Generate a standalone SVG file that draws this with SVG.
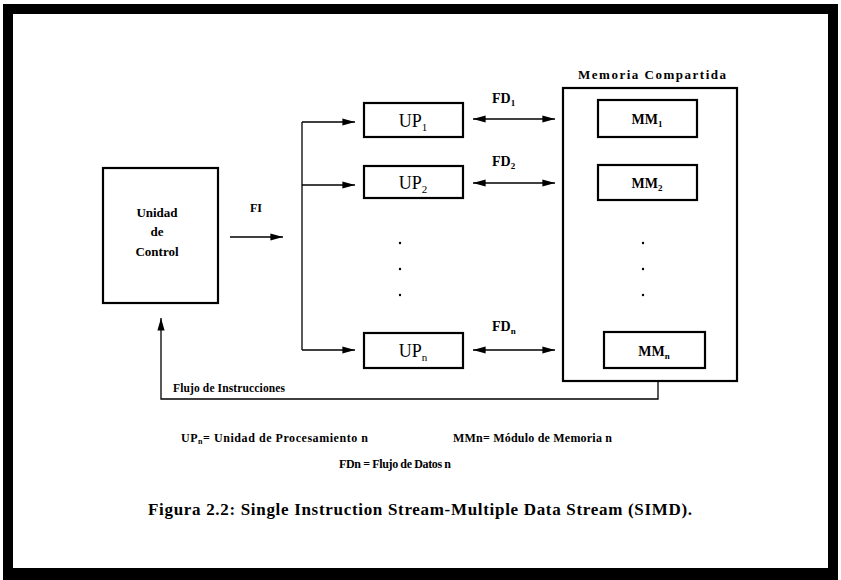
<svg xmlns="http://www.w3.org/2000/svg" width="841" height="580" viewBox="0 0 841 580">
<defs>
<style>
.t{font-family:"Liberation Serif","Times New Roman",serif;fill:#000}
.b{font-weight:bold}
.box{fill:#fff;stroke:#000;stroke-width:2.2}
.ln{fill:none;stroke:#000;stroke-width:1.3}
</style>
<marker id="ah" viewBox="0 0 14 10" refX="14" refY="5" markerWidth="14" markerHeight="9" markerUnits="userSpaceOnUse" orient="auto-start-reverse">
<path d="M0,1 L14,5 L0,9 Z" fill="#000"/>
</marker>
</defs>
<rect x="0" y="0" width="841" height="580" fill="#fff"/>
<path id="frame" d="M3,4 H838 V580 H3 Z M13,14 V568 H828 V14 Z" fill="#000" fill-rule="evenodd"/>

<g id="control">
<rect class="box" x="103" y="168" width="115" height="135" stroke-width="2.6"/>
<text class="t b" x="157" y="217" font-size="13" text-anchor="middle">Unidad</text>
<text class="t b" x="157" y="236" font-size="13" text-anchor="middle">de</text>
<text class="t b" x="157" y="256" font-size="13" text-anchor="middle">Control</text>
</g>

<g id="up1">
<rect class="box" x="364" y="103" width="99" height="34"/>
<text class="t" x="413" y="127" font-size="18" text-anchor="middle">UP<tspan font-size="11" dy="4">1</tspan></text>
</g>
<g id="up2">
<rect class="box" x="364" y="166" width="99" height="32"/>
<text class="t" x="413" y="189" font-size="18" text-anchor="middle">UP<tspan font-size="11" dy="4">2</tspan></text>
</g>
<g id="upn">
<rect class="box" x="364" y="333" width="99" height="35"/>
<text class="t" x="413" y="357" font-size="18" text-anchor="middle">UP<tspan font-size="11" dy="4">n</tspan></text>
</g>

<g id="memoria">
<text class="t b" x="652" y="79" font-size="13" text-anchor="middle" textLength="148">Memoria Compartida</text>
<rect class="box" x="563" y="88" width="174" height="293" stroke-width="2.8"/>
</g>
<g id="mm1">
<rect class="box" x="598" y="100" width="99" height="37" stroke-width="1.6"/>
<text class="t b" x="647" y="124" font-size="14" text-anchor="middle">MM<tspan font-size="9" dy="3">1</tspan></text>
</g>
<g id="mm2">
<rect class="box" x="598" y="165" width="99" height="35" stroke-width="1.6"/>
<text class="t b" x="647" y="188" font-size="14" text-anchor="middle">MM<tspan font-size="9" dy="3">2</tspan></text>
</g>
<g id="mmn">
<rect class="box" x="604" y="332" width="101" height="36" stroke-width="1.6"/>
<text class="t b" x="654" y="356" font-size="14" text-anchor="middle">MM<tspan font-size="9" dy="3">n</tspan></text>
</g>

<g id="dots" fill="#000">
<circle cx="400" cy="243" r="1.2"/>
<circle cx="400" cy="269" r="1.2"/>
<circle cx="400" cy="295" r="1.2"/>
<circle cx="643" cy="243" r="1.2"/>
<circle cx="643" cy="269" r="1.2"/>
<circle cx="643" cy="295" r="1.2"/>
</g>

<g id="connectors">
<line class="ln" x1="230" y1="237" x2="283" y2="237" marker-end="url(#ah)"/>
<polyline class="ln" points="302,122 302,350"/>
<line class="ln" x1="302" y1="122" x2="355" y2="122" marker-end="url(#ah)"/>
<line class="ln" x1="302" y1="185" x2="355" y2="185" marker-end="url(#ah)"/>
<line class="ln" x1="302" y1="350" x2="355" y2="350" marker-end="url(#ah)"/>
<line class="ln" x1="473" y1="119" x2="555" y2="119" marker-start="url(#ah)" marker-end="url(#ah)"/>
<line class="ln" x1="473" y1="183" x2="555" y2="183" marker-start="url(#ah)" marker-end="url(#ah)"/>
<line class="ln" x1="473" y1="350" x2="555" y2="350" marker-start="url(#ah)" marker-end="url(#ah)"/>
<polyline class="ln" points="658,381 658,399 161,399 161,318" marker-end="url(#ah)"/>
</g>

<g id="labels">
<text class="t b" x="250" y="212" font-size="12">FI</text>
<text class="t b" x="492" y="103" font-size="14">FD<tspan font-size="9" dy="3">1</tspan></text>
<text class="t b" x="492" y="166" font-size="14">FD<tspan font-size="9" dy="3">2</tspan></text>
<text class="t b" x="492" y="331" font-size="14">FD<tspan font-size="9" dy="3">n</tspan></text>
<text class="t b" x="173" y="392" font-size="11.5" textLength="112">Flujo de Instrucciones</text>
</g>

<g id="legend">
<text class="t b" x="181" y="442" font-size="12" textLength="187">UP<tspan font-size="8" dy="2">n</tspan><tspan dy="-2">= Unidad de Procesamiento n</tspan></text>
<text class="t b" x="453" y="442" font-size="12" textLength="159">MMn= Módulo de Memoria n</text>
<text class="t b" x="339" y="468" font-size="12" textLength="112">FDn = Flujo de Datos n</text>
<text class="t b" x="148" y="515" font-size="17" textLength="544">Figura 2.2: Single Instruction Stream-Multiple Data Stream (SIMD).</text>
</g>
</svg>
